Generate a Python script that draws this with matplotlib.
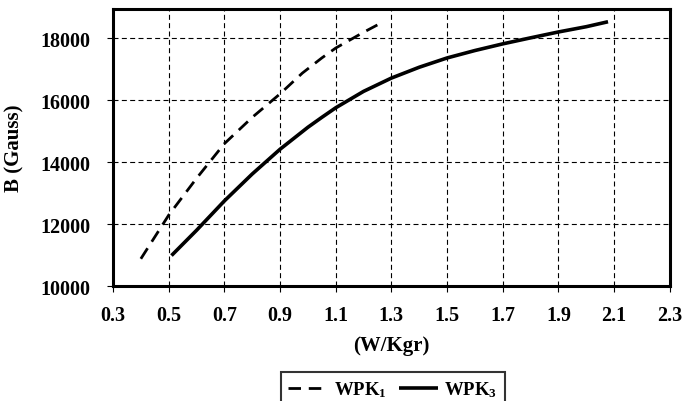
import matplotlib
matplotlib.use('Agg')
import matplotlib.pyplot as plt

plt.rcParams['font.family'] = 'Liberation Serif'
plt.rcParams['font.weight'] = 'bold'
plt.rcParams['mathtext.fontset'] = 'custom'
plt.rcParams['mathtext.rm'] = 'Liberation Serif:bold'
plt.rcParams['mathtext.bf'] = 'Liberation Serif:bold'
plt.rcParams['mathtext.default'] = 'rm'

# WPK1 (dashed curve)
wpk1_x = [0.40, 0.50, 0.60, 0.70, 0.80, 0.90, 0.98, 1.05, 1.10, 1.20, 1.265]
wpk1_b = [10880, 12290, 13480, 14600, 15450, 16210, 16880, 17370, 17690, 18200, 18510]

# WPK3 (solid curve)
wpk3_x = [0.51, 0.60, 0.70, 0.80, 0.90, 1.00, 1.05, 1.10, 1.20, 1.30, 1.40,
          1.50, 1.60, 1.70, 1.80, 1.90, 2.00, 2.078]
wpk3_b = [10985, 11800, 12750, 13620, 14420, 15130, 15450, 15760, 16290, 16720, 17070,
          17370, 17610, 17825, 18020, 18210, 18380, 18540]

x_ticks = [0.3, 0.5, 0.7, 0.9, 1.1, 1.3, 1.5, 1.7, 1.9, 2.1, 2.3]
y_ticks = [10000, 12000, 14000, 16000, 18000]

fig = plt.figure(figsize=(6.87, 4.02), dpi=100)
ax = fig.add_axes([0.1645, 0.286, 0.8105, 0.689])

ax.plot(wpk1_x, wpk1_b, color='black', lw=2.0, linestyle=(0, (4.5, 2.8)), label='WPK$_1$')
ax.plot(wpk3_x, wpk3_b, color='black', lw=2.6, label='WPK$_3$', solid_capstyle='butt')

ax.set_xlim(0.3, 2.3)
ax.set_ylim(10000, 18950)
ax.set_xticks(x_ticks)
ax.set_xticklabels([f'{v:.1f}' for v in x_ticks])
ax.set_yticks(y_ticks)
ax.grid(True, color='black', linestyle=(0, (4.5, 3)), lw=0.8)
ax.tick_params(labelsize=14.5, direction='out', length=4, width=0.8)
ax.tick_params(axis='x', pad=10)
ax.tick_params(axis='y', pad=12)
for s in ax.spines.values():
    s.set_linewidth(2.2)

ax.set_xlabel('(W/Kgr)', fontsize=15, fontweight='bold', labelpad=7)
ax.set_ylabel('B (Gauss)', fontsize=15, fontweight='bold', labelpad=12)

leg = fig.legend(loc='upper center', bbox_to_anchor=(393 / 687, 1 - 373 / 402), ncol=2,
                 fontsize=13.5, frameon=True, fancybox=False, edgecolor='black',
                 handlelength=2.1, handletextpad=0.35, columnspacing=0.6, borderpad=0.4,
                 borderaxespad=0)
leg.get_frame().set_linewidth(1.5)

fig.savefig('out.png', dpi=100)
